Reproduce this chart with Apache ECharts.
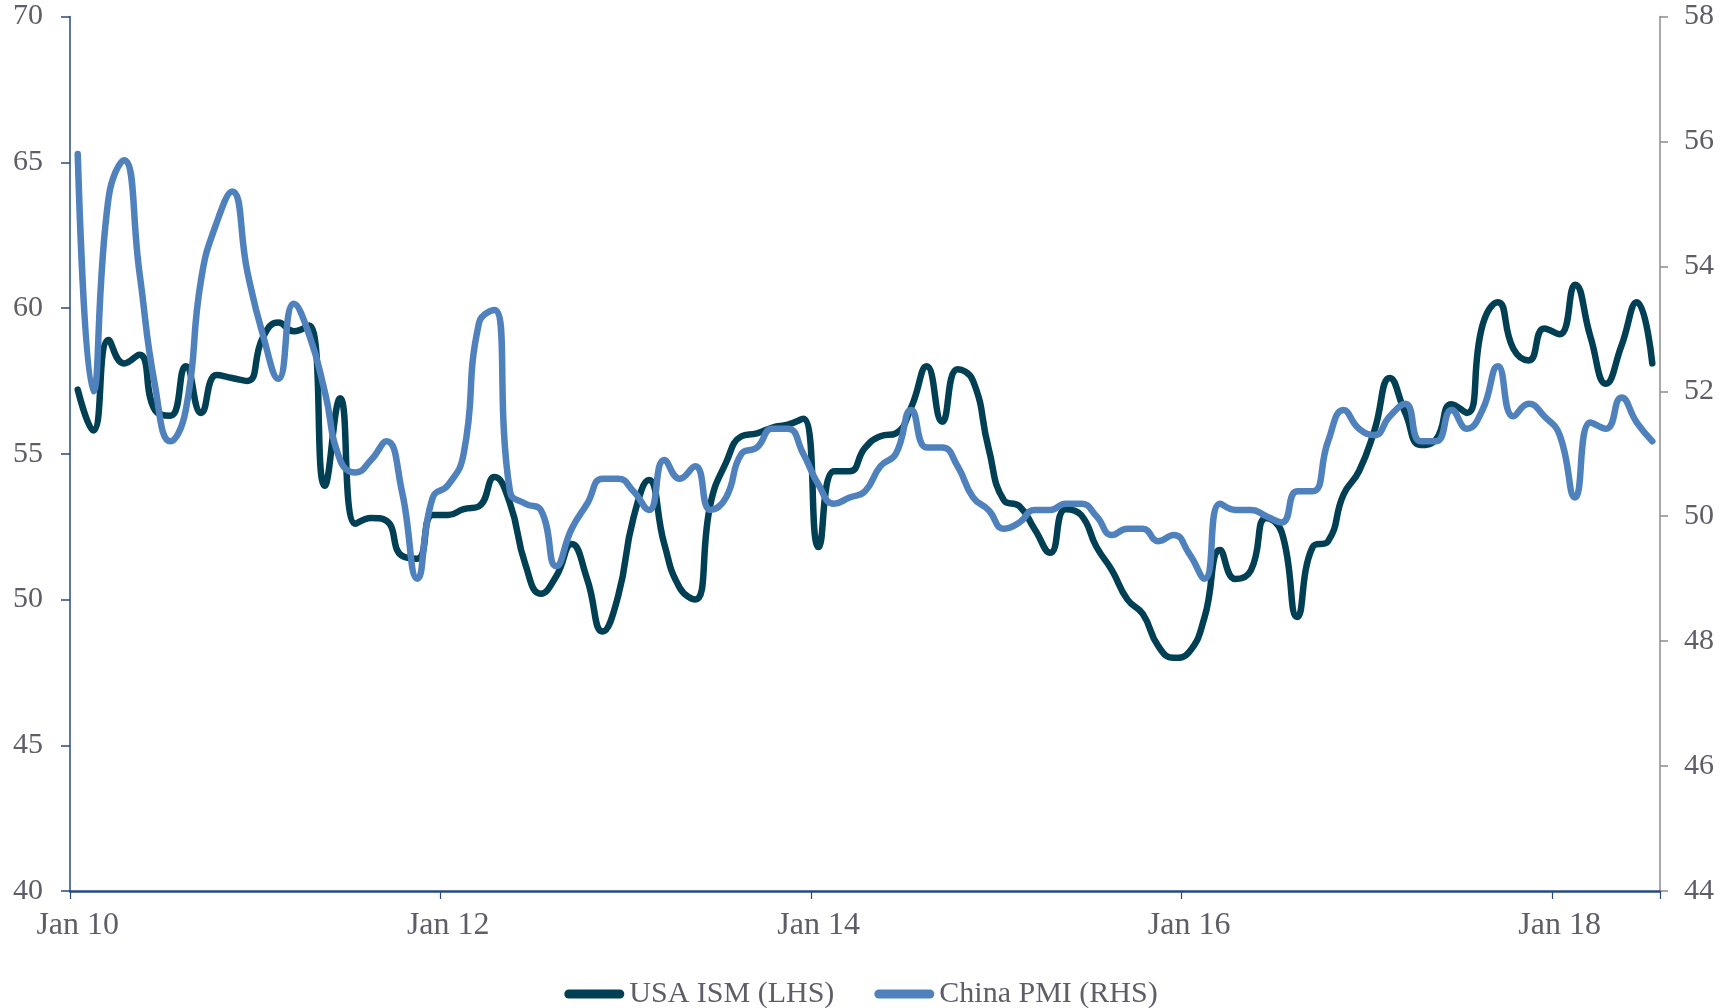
<!DOCTYPE html>
<html>
<head>
<meta charset="utf-8">
<script src="https://cdn.jsdelivr.net/npm/echarts@6/dist/echarts.min.js"></script>
<style>
html,body{margin:0;padding:0;background:#fff;}
#chart{width:1722px;height:1008px;}
</style>
</head>
<body>
<div id="chart"></div>
<script>
// Categories: monthly, Jan 2010 .. Jul 2018
var monthNames = ['Jan','Feb','Mar','Apr','May','Jun','Jul','Aug','Sep','Oct','Nov','Dec'];
var yearLabels = ['10','11','12','13','14','15','16','17','18'];
var categories = [];
yearLabels.forEach(function (y, yi) {
  monthNames.forEach(function (m, mi) {
    if (yi === yearLabels.length - 1 && mi > 6) return;
    categories.push(m + ' ' + y);
  });
});

// USA ISM (LHS)
var usaISM = [
  57.2, 55.8, 58.9, 58.1, 58.4, 56.5, 56.3, 58.0, 56.4, 57.7, 57.6, 57.5,
  59.0, 59.5, 59.2, 59.4, 53.9, 56.9, 52.6, 52.8, 52.7, 51.5, 51.4, 52.9,
  52.9, 53.1, 53.2, 54.2, 53.3, 51.2, 50.2, 50.8, 51.9, 50.7, 48.9, 50.1,
  52.8, 54.1, 51.9, 50.4, 50.0, 53.3, 54.7, 55.6, 55.7, 55.9, 56.0, 56.2,
  51.8, 54.4, 54.4, 55.2, 55.6, 55.7, 56.6, 58.0, 56.1, 57.9, 57.5, 55.2,
  53.4, 53.2, 52.4, 51.6, 53.1, 52.9, 51.8, 51.0, 50.0, 49.5, 48.4, 48.0,
  48.2, 49.4, 51.7, 50.7, 51.0, 52.8, 52.3, 49.4, 51.8, 52.0, 53.6, 54.4,
  55.8, 57.6, 56.4, 55.3, 55.5, 56.7, 56.4, 59.4, 60.2, 58.6, 58.2, 59.3,
  59.1, 60.8, 59.0, 57.4, 58.7, 60.2, 58.1
];

// China PMI (RHS)
var chinaPMI = [
  55.8, 52.0, 55.1, 55.7, 53.9, 52.1, 51.2, 51.7, 53.8, 54.7, 55.2, 53.9,
  52.9, 52.2, 53.4, 52.9, 52.0, 50.9, 50.7, 50.9, 51.2, 50.4, 49.0, 50.3,
  50.5, 51.0, 53.1, 53.3, 50.4, 50.2, 50.1, 49.2, 49.8, 50.2, 50.6, 50.6,
  50.4, 50.1, 50.9, 50.6, 50.8, 50.1, 50.3, 51.0, 51.1, 51.4, 51.4, 51.0,
  50.5, 50.2, 50.3, 50.4, 50.8, 51.0, 51.7, 51.1, 51.1, 50.8, 50.3, 50.1,
  49.8, 49.9, 50.1, 50.1, 50.2, 50.2, 50.0, 49.7, 49.8, 49.8, 49.6, 49.7,
  49.4, 49.0, 50.2, 50.1, 50.1, 50.0, 49.9, 50.4, 50.4, 51.2, 51.7, 51.4,
  51.3, 51.6, 51.8, 51.2, 51.2, 51.7, 51.4, 51.7, 52.4, 51.6, 51.8, 51.6,
  51.3, 50.3, 51.5, 51.4, 51.9, 51.5, 51.2
];

var seriesNames = ['USA ISM (LHS)', 'China PMI (RHS)'];
var seriesColors = ['#003f54', '#4f81bd'];

var FONT = '"Liberation Serif", "Times New Roman", serif';
var LABEL_COLOR = '#5f5d68';

var chart = echarts.init(document.getElementById('chart'));
var pill = 'path://M4.5,0 L55.5,0 A4.5,4.5 0 0 1 55.5,9 L4.5,9 A4.5,4.5 0 0 1 4.5,0 Z';

chart.setOption({
  animation: false,
  backgroundColor: '#ffffff',
  grid: { left: 70, right: 62, top: 16.5, bottom: 117 },
  legend: {
    top: 974,
    left: 'center',
    itemGap: 40,
    itemWidth: 60,
    itemHeight: 9,
    textStyle: { fontFamily: FONT, fontSize: 30, color: LABEL_COLOR },
    data: [
      { name: seriesNames[0], icon: pill },
      { name: seriesNames[1], icon: pill }
    ]
  },
  xAxis: {
    type: 'category',
    data: categories,
    boundaryGap: true,
    axisLine: { lineStyle: { color: '#264b82', width: 2.5 } },
    axisTick: {
      show: true,
      length: 8,
      interval: function (i) { return i % 24 === 0; },
      lineStyle: { color: '#264b82', width: 1.2 }
    },
    axisLabel: {
      interval: function (i) { return i % 24 === 0; },
      fontFamily: FONT, fontSize: 32, color: LABEL_COLOR, margin: 19
    },
    splitLine: { show: false }
  },
  yAxis: [
    {
      type: 'value', min: 40, max: 70, interval: 5, position: 'left',
      axisLine: { show: true, lineStyle: { color: '#264b82', width: 1.5 } },
      axisTick: { show: true, length: 9, lineStyle: { color: '#264b82', width: 1.5 } },
      axisLabel: { fontFamily: FONT, fontSize: 30, color: LABEL_COLOR, margin: 27 },
      splitLine: { show: false }
    },
    {
      type: 'value', min: 44, max: 58, interval: 2, position: 'right',
      axisLine: { show: true, lineStyle: { color: '#8c8c8c', width: 1.5 } },
      axisTick: { show: true, length: 8, lineStyle: { color: '#8c8c8c', width: 1.5 } },
      axisLabel: { fontFamily: FONT, fontSize: 30, color: LABEL_COLOR, margin: 24 },
      splitLine: { show: false }
    }
  ],
  series: [
    {
      name: seriesNames[0], type: 'line', yAxisIndex: 0, data: usaISM,
      smooth: 0.5, showSymbol: false, symbol: 'none', z: 2,
      lineStyle: { color: seriesColors[0], width: 6.5, cap: 'round', join: 'round' },
      itemStyle: { color: seriesColors[0] }
    },
    {
      name: seriesNames[1], type: 'line', yAxisIndex: 1, data: chinaPMI,
      smooth: 0.5, showSymbol: false, symbol: 'none', z: 3,
      lineStyle: { color: seriesColors[1], width: 6.5, cap: 'round', join: 'round' },
      itemStyle: { color: seriesColors[1] }
    }
  ]
});
</script>
</body>
</html>
